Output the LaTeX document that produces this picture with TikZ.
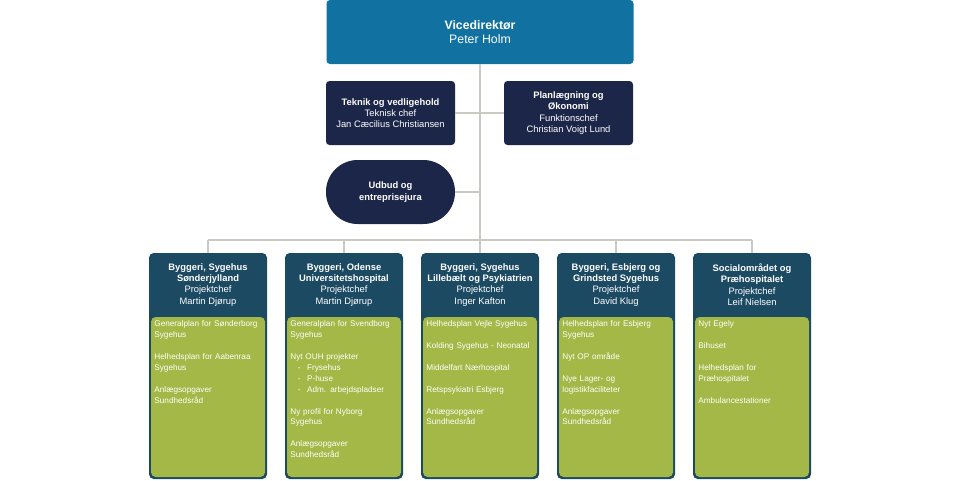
\documentclass[tikz,border=0pt]{standalone}
\usepackage{fontspec}
\setmainfont{Liberation Sans}
\usetikzlibrary{positioning,calc}
\definecolor{topblue}{HTML}{1172A2}
\definecolor{navy}{HTML}{1C2648}
\definecolor{teal}{HTML}{1D4A63}
\definecolor{leaf}{HTML}{A3B846}
\definecolor{wire}{HTML}{C9C9C4}
\begin{document}
\begin{tikzpicture}[
    % styles
    head/.style={rectangle, rounded corners=3pt, fill=topblue, text=white, minimum width=9.21cm, minimum height=1.92cm, align=center, font=\bfseries\fontsize{10.5}{12.5}\selectfont},
    staff/.style={rectangle, rounded corners=3pt, fill=navy, text=white, minimum width=3.87cm, minimum height=1.92cm, align=center, font=\fontsize{8}{9.6}\selectfont},
    pill/.style={staff, rounded corners=0.95cm},
    card/.style={rectangle, rounded corners=4pt, fill=teal, minimum width=3.54cm, minimum height=6.78cm},
    cardhead/.style={text=white, align=center, font=\fontsize{8}{9.6}\selectfont},
    body/.style={rectangle, rounded corners=4pt, fill=leaf, minimum width=3.42cm, minimum height=4.8cm},
    bodytext/.style={text=white, align=left, text width=3.3cm, inner sep=1.5pt, font=\fontsize{7}{9.35}\selectfont},
    link/.style={draw=wire, line width=0.9pt}
]
\useasboundingbox (0,0) rectangle (28.8,-14.4);

% Top
\node[head] (vice) at (14.4,-0.96) {Vicedirektør\\\mdseries Peter Holm};

% Staff
\node[staff] (teknik) at (11.715,-3.39) {\textbf{Teknik og vedligehold}\\Teknisk chef\\Jan Cæcilius Christiansen};
\node[staff] (plan) at (17.055,-3.39) {\textbf{Planlægning og}\\\textbf{Økonomi}\\Funktionschef\\Christian Voigt Lund};
\node[pill] (udbud) at (11.715,-5.76) {\textbf{Udbud og}\\\textbf{entreprisejura}};

% Wiring
\coordinate (spine) at (14.4,-7.2);
\coordinate (barL) at (6.24,-7.2);
\coordinate (barR) at (22.56,-7.2);
\draw[link] (vice.south) -- (spine);
\draw[link] (teknik.east) -- (plan.west);
\draw[link] (udbud.east) -- (udbud.east -| vice.south);
\draw[link] (barL) -- (barR);

% Cards
\node[card] (sj) at (6.24,-10.98) {};
\node[card] (ouh) at (10.32,-10.98) {};
\node[card] (slb) at (14.4,-10.98) {};
\node[card] (esb) at (18.48,-10.98) {};
\node[card] (soc) at (22.56,-10.98) {};

\foreach \c in {sj,ouh,slb,esb,soc}{
    \draw[link] (\c.north |- spine) -- (\c.north);
    \node[body] (\c_body) at ($(\c.center)+(0,-0.93)$) {};
}

\node[cardhead] at ($(sj.north)+(0,-0.96)$) {\textbf{Byggeri, Sygehus}\\\textbf{Sønderjylland}\\Projektchef\\Martin Djørup};
\node[cardhead] at ($(ouh.north)+(0,-0.96)$) {\textbf{Byggeri, Odense}\\\textbf{Universitetshospital}\\Projektchef\\Martin Djørup};
\node[cardhead] at ($(slb.north)+(0,-0.96)$) {\textbf{Byggeri, Sygehus}\\\textbf{Lillebælt og Psykiatrien}\\Projektchef\\Inger Kafton};
\node[cardhead] at ($(esb.north)+(0,-0.96)$) {\textbf{Byggeri, Esbjerg og}\\\textbf{Grindsted Sygehus}\\Projektchef\\David Klug};
\node[cardhead] at ($(soc.north)+(0,-0.96)$) {\textbf{Socialområdet og}\\\textbf{Præhospitalet}\\Projektchef\\Leif Nielsen};

% Card contents
\node[bodytext, anchor=north west] (sj_text) at ($(sj_body.north west)+(0.05,-0.05)$) {Generalplan for Sønderborg\\Sygehus\\[9.35pt]Helhedsplan for Aabenraa\\Sygehus\\[9.35pt]Anlægsopgaver\\Sundhedsråd};
\node[bodytext, anchor=north west] (ouh_text) at ($(ouh_body.north west)+(0.05,-0.05)$) {Generalplan for Svendborg\\Sygehus\\[9.35pt]Nyt OUH projekter\\\hspace*{0.9em}-\hspace{0.8em}Frysehus\\\hspace*{0.9em}-\hspace{0.8em}P-huse\\\hspace*{0.9em}-\hspace{0.8em}Adm. arbejdspladser\\[9.35pt]Ny profil for Nyborg\\Sygehus\\[9.35pt]Anlægsopgaver\\Sundhedsråd};
\node[bodytext, anchor=north west] (slb_text) at ($(slb_body.north west)+(0.05,-0.05)$) {Helhedsplan Vejle Sygehus\\[9.35pt]Kolding Sygehus - Neonatal\\[9.35pt]Middelfart Nærhospital\\[9.35pt]Retspsykiatri Esbjerg\\[9.35pt]Anlægsopgaver\\Sundhedsråd};
\node[bodytext, anchor=north west] (esb_text) at ($(esb_body.north west)+(0.05,-0.05)$) {Helhedsplan for Esbjerg\\Sygehus\\[9.35pt]Nyt OP område\\[9.35pt]Nye Lager- og\\logistikfaciliteter\\[9.35pt]Anlægsopgaver\\Sundhedsråd};
\node[bodytext, anchor=north west] (soc_text) at ($(soc_body.north west)+(0.05,-0.05)$) {Nyt Egely\\[9.35pt]Bihuset\\[9.35pt]Helhedsplan for\\Præhospitalet\\[9.35pt]Ambulancestationer};

\end{tikzpicture}
\end{document}
